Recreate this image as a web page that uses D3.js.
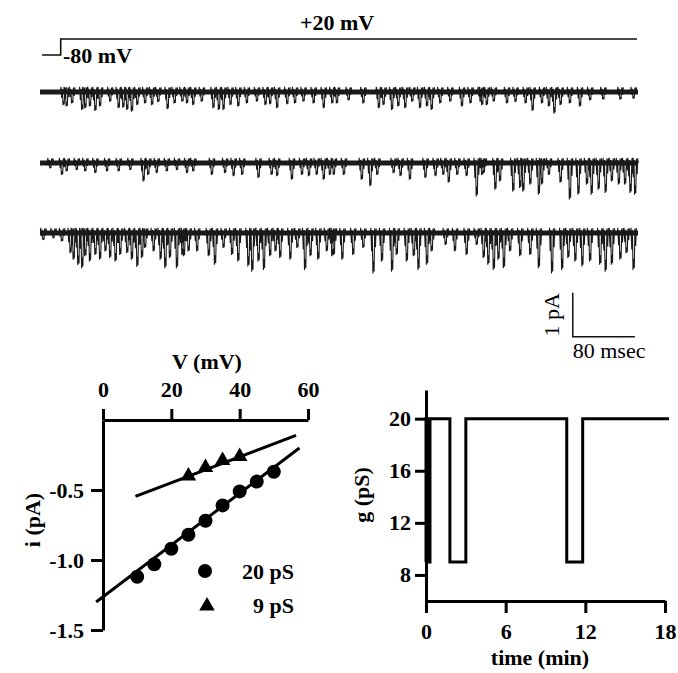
<!DOCTYPE html>
<html>
<head>
<meta charset="utf-8">
<script src="https://cdn.jsdelivr.net/npm/d3@7"></script>
<style>
  body { margin: 0; background: #fff; }
  text { font-family: "Liberation Serif", "Times New Roman", serif; font-weight: bold; font-size: 22px; fill: #000; }
  text.plain { font-weight: normal; }
</style>
</head>
<body>
<div id="chart"></div>
<script>
// single channel records at +20 mV: [time (ms), opening depth (pA)]
const trace1 = [[30,0.30],[34,0.33],[41,0.26],[54,0.41],[58,0.37],[64,0.33],[71,0.43],[77,0.33],[90,0.22],[101,0.37],[107,0.36],[112,0.41],[118,0.45],[125,0.30],[135,0.26],[144,0.30],[152,0.23],[164,0.39],[173,0.26],[183,0.22],[189,0.26],[197,0.30],[208,0.22],[223,0.37],[230,0.41],[236,0.41],[245,0.30],[255,0.33],[266,0.26],[279,0.22],[290,0.30],[296,0.28],[305,0.37],[318,0.28],[328,0.26],[339,0.22],[352,0.26],[365,0.37],[376,0.26],[382,0.26],[397,0.19],[416,0.26],[436,0.37],[442,0.30],[453,0.41],[461,0.33],[470,0.37],[479,0.22],[489,0.37],[498,0.33],[504,0.41],[515,0.26],[528,0.22],[543,0.33],[554,0.26],[567,0.22],[569,0.30],[575,0.30],[584,0.22],[601,0.26],[612,0.23],[625,0.26],[634,0.43],[646,0.26],[655,0.33],[662,0.49],[670,0.30],[682,0.26],[695,0.33],[708,0.19],[725,0.17],[747,0.17],[764,0.15]];
const trace2 = [[13,0.12],[28,0.27],[34,0.19],[47,0.16],[58,0.19],[71,0.23],[86,0.19],[101,0.19],[116,0.16],[133,0.42],[139,0.27],[150,0.23],[163,0.19],[176,0.16],[189,0.23],[197,0.19],[221,0.27],[238,0.23],[249,0.30],[260,0.27],[281,0.34],[298,0.27],[305,0.30],[324,0.38],[337,0.27],[346,0.30],[356,0.27],[365,0.38],[373,0.27],[378,0.27],[391,0.27],[414,0.38],[425,0.53],[434,0.27],[455,0.23],[464,0.30],[476,0.38],[496,0.34],[509,0.30],[519,0.27],[526,0.45],[537,0.27],[549,0.30],[562,0.76],[569,0.27],[571,0.23],[586,0.61],[592,0.42],[609,0.65],[618,0.57],[622,0.65],[631,0.49],[642,0.72],[646,0.49],[655,0.27],[670,0.45],[682,0.83],[693,0.72],[704,0.49],[710,0.72],[719,0.61],[728,0.68],[736,0.42],[745,0.49],[753,0.49],[760,0.68],[766,0.72]];
const trace3 = [[4,0.16],[17,0.12],[28,0.19],[39,0.46],[43,0.61],[49,0.73],[54,0.80],[58,0.53],[64,0.65],[71,0.50],[77,0.61],[84,0.42],[90,0.57],[97,0.65],[103,0.50],[112,0.46],[118,0.61],[125,0.77],[131,0.57],[135,0.34],[146,0.42],[155,0.61],[161,0.80],[167,0.57],[176,0.80],[183,0.50],[185,0.53],[191,0.42],[202,0.42],[217,0.53],[225,0.72],[236,0.34],[247,0.50],[255,0.65],[268,0.76],[273,0.88],[281,0.65],[288,0.84],[296,0.53],[303,0.42],[309,0.57],[322,0.61],[331,0.34],[341,0.84],[348,0.53],[358,0.61],[369,0.42],[376,0.53],[378,0.50],[389,0.61],[403,0.50],[416,0.34],[429,0.92],[440,0.65],[453,0.88],[459,0.50],[472,0.65],[481,0.53],[487,0.84],[498,0.72],[504,0.42],[522,0.27],[534,0.42],[549,0.50],[562,0.27],[571,0.57],[577,0.72],[584,0.84],[590,0.61],[597,0.80],[605,0.42],[618,0.53],[631,0.50],[642,0.80],[659,0.92],[672,0.84],[680,0.57],[689,0.65],[698,0.76],[708,0.65],[721,0.72],[728,0.88],[736,0.72],[747,0.61],[755,0.46],[764,0.84]];
const traceDuration = 770; // ms

// i-V relation
const v20 = [10, 15, 20, 25, 30, 35, 40, 45, 50];
const i20 = [-1.12, -1.03, -0.92, -0.82, -0.72, -0.61, -0.51, -0.44, -0.37];
const v9 = [25, 30, 35, 40];
const i9 = [-0.40, -0.34, -0.29, -0.26];
const fit20 = [[-2, -1.30], [57.5, -0.20]];
const fit9 = [[9.5, -0.545], [56.5, -0.11]];
const vTicks = [0, 20, 40, 60];
const iTicks = [-0.5, -1.0, -1.5];

// conductance vs time: [min, pS]
const gTrace = [[0,9],[0,20],[0.08,20],[0.08,9],[0.16,9],[0.16,20],[0.24,20],[0.24,9],[0.3,9],[0.3,20],[1.8,20],[1.8,9],[3.0,9],[3.0,20],[10.6,20],[10.6,9],[11.8,9],[11.8,20],[18.3,20]];
const tTicks = [0, 6, 12, 18];
const gTicks = [8, 12, 16, 20];

const svg = d3.select('#chart').append('svg')
    .attr('width', 678)
    .attr('height', 673);

// --- voltage protocol ---
const proto = svg.append('g').attr('fill', 'none').attr('stroke', '#111').attr('stroke-width', 1.6);
proto.append('path').attr('d', 'M42,55H60.7V39H637');
svg.append('text').attr('x', 300).attr('y', 30).text('+20 mV');
svg.append('text').attr('x', 63).attr('y', 63).text('-80 mV');

// --- current traces ---
const xT = d3.scaleLinear().domain([0, traceDuration]).range([40, 638]);
const pxPerPA = 44;
const baselines = [92, 163, 233];

// each opening is drawn as a short flickery burst around its peak depth,
// entering and leaving at the baseline so the joins stay inside the noise band
function burst(d, y) {
    const t = d[0], a = d[1];
    const pts = [[t - 3.5, 0], [t - 3, 0.12], [t - 2, -0.45 * a], [t - 1.2, 0.07], [t - 0.4, -a],
                 [t + 0.4, -0.7 * a], [t + 1.2, -0.95 * a], [t + 2, 0.1], [t + 3, -0.35 * a], [t + 3.8, 0.11], [t + 4.3, 0]];
    return pts.map(p => `${xT(p[0]).toFixed(1)},${y(p[1]).toFixed(1)}`).join('L');
}

[trace1, trace2, trace3].forEach((tr, k) => {
    const y = d3.scaleLinear().domain([0, -1]).range([baselines[k], baselines[k] + pxPerPA]);
    const g = svg.append('g').attr('fill', 'none').attr('stroke', '#1a1a1a');
    g.append('line')
        .attr('x1', xT(0)).attr('x2', xT(traceDuration))
        .attr('y1', y(0)).attr('y2', y(0))
        .attr('stroke-width', 5);
    g.append('path')
        .attr('stroke-width', 1.1)
        .attr('stroke-linejoin', 'bevel')
        .attr('d', 'M' + tr.map(d => burst(d, y)).join('L'));
});

// scale bar: 1 pA, 80 msec
const barT0 = 686;
const yBar = d3.scaleLinear().domain([0, 1]).range([336.7, 336.7 - pxPerPA]);
svg.append('path')
    .attr('fill', 'none').attr('stroke', '#111').attr('stroke-width', 1.5)
    .attr('d', `M${xT(barT0)},${yBar(1)}V${yBar(0)}H${xT(barT0 + 80)}`);
svg.append('text').attr('class', 'plain')
    .attr('transform', `translate(559,${yBar(0.5)}) rotate(-90)`)
    .attr('text-anchor', 'middle').text('1 pA');
svg.append('text').attr('class', 'plain')
    .attr('x', xT(barT0)).attr('y', 358).text('80 msec');

// --- i-V plot ---
const xV = d3.scaleLinear().domain([0, 60]).range([103, 308]);
const yI = d3.scaleLinear().domain([0, -1.5]).range([420, 630]);

const axV = svg.append('g').attr('transform', `translate(0,${yI(0)})`)
    .call(d3.axisTop(xV).tickValues(vTicks).tickSize(11).tickSizeOuter(0).tickPadding(12).tickFormat(d => d));
const axI = svg.append('g').attr('transform', `translate(${xV(0)},0)`)
    .call(d3.axisLeft(yI).tickValues(iTicks).tickSize(12).tickSizeOuter(0).tickPadding(7).tickFormat(d => d.toFixed(1)));
[axV, axI].forEach(a => {
    a.selectAll('path, line').attr('stroke', '#000').attr('stroke-width', 3);
});
svg.append('text').attr('x', 207).attr('y', 369).attr('text-anchor', 'middle').text('V (mV)');
svg.append('text').attr('transform', 'translate(40,520) rotate(-90)').attr('text-anchor', 'middle').text('i (pA)');

const fitLine = d3.line().x(d => xV(d[0])).y(d => yI(d[1]));
svg.append('path').datum(fit20).attr('d', fitLine).attr('fill', 'none').attr('stroke', '#000').attr('stroke-width', 3);
svg.append('path').datum(fit9).attr('d', fitLine).attr('fill', 'none').attr('stroke', '#000').attr('stroke-width', 3);

svg.append('g').selectAll('circle').data(v20).join('circle')
    .attr('cx', d => xV(d)).attr('cy', (d, i) => yI(i20[i])).attr('r', 7).attr('fill', '#000');
const tri = d3.symbol().type(d3.symbolTriangle).size(105);
svg.append('g').selectAll('path').data(v9).join('path')
    .attr('d', tri).attr('fill', '#000')
    .attr('transform', (d, i) => `translate(${xV(d)},${yI(i9[i])})`);

// legend
svg.append('circle').attr('cx', 205).attr('cy', 571).attr('r', 7).attr('fill', '#000');
svg.append('path').attr('d', tri).attr('fill', '#000').attr('transform', 'translate(207,606)');
svg.append('text').attr('x', 294).attr('y', 579).attr('text-anchor', 'end').text('20 pS');
svg.append('text').attr('x', 294).attr('y', 613).attr('text-anchor', 'end').text('9 pS');

// --- conductance vs time ---
const xM = d3.scaleLinear().domain([0, 18]).range([426, 665]);
const yG = d3.scaleLinear().domain([6, 22.2]).range([601, 390]);
const axM = svg.append('g').attr('transform', `translate(0,${yG(6)})`)
    .call(d3.axisBottom(xM).tickValues(tTicks).tickSize(12).tickSizeOuter(0).tickPadding(10));
const axG = svg.append('g').attr('transform', `translate(${xM(0)},0)`)
    .call(d3.axisLeft(yG).tickValues(gTicks).tickSize(11).tickSizeOuter(0).tickPadding(4));
[axM, axG].forEach(a => {
    a.selectAll('path, line').attr('stroke', '#000').attr('stroke-width', 3);
});
svg.append('path').datum(gTrace)
    .attr('d', d3.line().x(d => xM(d[0])).y(d => yG(d[1])))
    .attr('fill', 'none').attr('stroke', '#000').attr('stroke-width', 3);
svg.append('text').attr('x', 540).attr('y', 665).attr('text-anchor', 'middle').text('time (min)');
svg.append('text').attr('transform', 'translate(369,495) rotate(-90)').attr('text-anchor', 'middle').text('g (pS)');
</script>
</body>
</html>
